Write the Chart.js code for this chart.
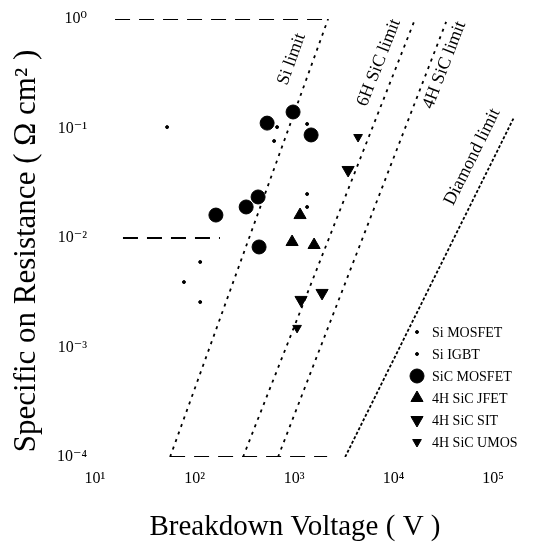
<!DOCTYPE html>
<html><head><meta charset="utf-8">
<script src="https://cdn.jsdelivr.net/npm/chart.js@4/dist/chart.umd.min.js"></script>
<style>html,body{margin:0;padding:0;background:#fff;}#wrap{width:543px;height:545px;}</style>
</head><body><div id="wrap"><canvas id="c" width="543" height="545"></canvas></div>
<script>
// ---- tick values / labels ----
const xTicks = [10, 100, 1000, 10000, 100000];
const xTickLabels = ['10¹', '10²', '10³', '10⁴', '10⁵'];
const yTicks = [1e-4, 1e-3, 1e-2, 1e-1, 1];
const yTickLabels = ['10⁻⁴', '10⁻³', '10⁻²', '10⁻¹', '10⁰'];

// ---- theoretical limit lines (V, Ron) ----
const limitNames = ['Si limit', '6H SiC limit', '4H SiC limit', 'Diamond limit'];
const siLimitV = [56.8, 2198];      const siLimitR = [1e-4, 1];
const sic6hLimitV = [307, 16440];   const sic6hLimitR = [1e-4, 1];
const sic4hLimitV = [690, 33700];   const sic4hLimitR = [1e-4, 0.94];
const diamondLimitV = [3258, 162500]; const diamondLimitR = [1e-4, 0.127];

// ---- dashed guide lines ----
const guideTopV = [15.9, 2198];  const guideTopR = [1, 1];
const guideMidV = [19.1, 180];   const guideMidR = [0.01, 0.01];
const guideBotV = [56.8, 2148];  const guideBotR = [1e-4, 1e-4];

// ---- device data ----
const seriesNames = ['Si MOSFET', 'Si IGBT', 'SiC MOSFET', '4H SiC JFET', '4H SiC SIT', '4H SiC UMOS'];
const siMosfetV = [53, 114, 78.3, 114];
const siMosfetR = [0.103, 0.00604, 0.00396, 0.0026];
const siIgbtV = [675, 630, 1352, 1352, 1352];
const siIgbtR = [0.103, 0.0769, 0.110, 0.0252, 0.0192];
const sicMosfetV = [536, 977, 1483, 435, 330, 164, 445];
const sicMosfetR = [0.112, 0.1415, 0.0873, 0.0237, 0.0192, 0.0162, 0.00828];
const sicJfetV = [1148, 955, 1589];
const sicJfetR = [0.0162, 0.00919, 0.00863];
const sicSitV = [1911, 1175, 3491];
const sicSitR = [0.00315, 0.00272, 0.0418];
const sicUmosV = [1072, 4395];
const sicUmosR = [0.00151, 0.0836];

const pts = (xs, ys) => xs.map((x, i) => ({x: x, y: ys[i]}));
const lineDs = (xs, ys, dash, w) => ({data: pts(xs, ys), showLine: true, pointRadius: 0,
  borderColor: '#000', borderWidth: w, borderDash: dash, fill: false});
const markDs = (label, xs, ys, style, r, rot) => ({label: label, inLegend: true, data: pts(xs, ys),
  showLine: false, pointStyle: style, pointRadius: r, rotation: rot || 0,
  backgroundColor: '#000', borderColor: '#000', borderWidth: 1});

const limitSets = [
  lineDs(siLimitV, siLimitR, [3, 5], 1.8),
  lineDs(sic6hLimitV, sic6hLimitR, [3, 5], 1.8),
  lineDs(sic4hLimitV, sic4hLimitR, [3, 5], 1.8),
  lineDs(diamondLimitV, diamondLimitR, [3, 2], 1.8)
];
limitSets.forEach((d, i) => { d.limitLabel = limitNames[i]; });

const datasets = [
  ...limitSets,
  lineDs(guideTopV, guideTopR, [15, 9], 2),
  lineDs(guideMidV, guideMidR, [15, 9], 2),
  lineDs(guideBotV, guideBotR, [15, 9], 2),
  markDs(seriesNames[0], siMosfetV, siMosfetR, 'circle', 1.5),
  markDs(seriesNames[1], siIgbtV, siIgbtR, 'circle', 1.5),
  markDs(seriesNames[2], sicMosfetV, sicMosfetR, 'circle', 7),
  markDs(seriesNames[3], sicJfetV, sicJfetR, 'triangle', 7),
  markDs(seriesNames[4], sicSitV, sicSitR, 'triangle', 7, 180),
  markDs(seriesNames[5], sicUmosV, sicUmosR, 'triangle', 5, 180)
];

// label placement along each limit line: Ron at label centre, horizontal offset (px)
const limitLabelR = [0.43, 0.40, 0.38, 0.055];
const limitLabelDx = [-22, -19, 15, -22];

const SERIF = '"Liberation Serif", "DejaVu Serif", serif';

const decorPlugin = {
  id: 'decor',
  afterDatasetsDraw(chart) {
    const ctx = chart.ctx, xs = chart.scales.x, ys = chart.scales.y;
    ctx.save();
    ctx.fillStyle = '#000'; ctx.strokeStyle = '#000';
    // limit labels
    ctx.font = '18px ' + SERIF;
    ctx.textAlign = 'center'; ctx.textBaseline = 'middle';
    let li = 0;
    chart.data.datasets.forEach(ds => {
      if (!ds.limitLabel) return;
      const p0 = ds.data[0], p1 = ds.data[1];
      const x0 = xs.getPixelForValue(p0.x), y0 = ys.getPixelForValue(p0.y);
      const x1 = xs.getPixelForValue(p1.x), y1 = ys.getPixelForValue(p1.y);
      const yl = ys.getPixelForValue(limitLabelR[li]);
      const xl = x0 + (x1 - x0) * (yl - y0) / (y1 - y0) + limitLabelDx[li];
      const ang = Math.atan2(y1 - y0, x1 - x0);
      ctx.save(); ctx.translate(xl, yl); ctx.rotate(ang);
      ctx.fillText(ds.limitLabel, 0, 0); ctx.restore();
      li++;
    });
    // legend
    ctx.font = '14px ' + SERIF; ctx.textAlign = 'left';
    let row = 0;
    chart.data.datasets.forEach(ds => {
      if (!ds.inLegend) return;
      const y = 332 + row * 22;
      Chart.helpers.drawPoint(ctx, {pointStyle: ds.pointStyle, radius: ds.pointRadius,
        rotation: ds.rotation, borderWidth: 1}, 417, y);
      ctx.fillText(ds.label, 432, y + 1);
      row++;
    });
    // axis titles
    ctx.font = '29px ' + SERIF; ctx.textAlign = 'center';
    ctx.fillText('Breakdown Voltage ( V )', 295, 527);
    ctx.font = '31px ' + SERIF;
    ctx.save(); ctx.translate(27, 251); ctx.rotate(-Math.PI / 2);
    ctx.fillText('Specific on Resistance ( Ω cm² )', 0, 0);
    ctx.restore();
    ctx.restore();
  }
};

new Chart(document.getElementById('c'), {
  type: 'scatter',
  data: {datasets: datasets},
  options: {
    responsive: false, animation: false,
    layout: {padding: {top: 19, right: 20, left: 0, bottom: 0}},
    plugins: {legend: {display: false}, tooltip: {enabled: false}},
    scales: {
      x: {
        type: 'logarithmic', min: 10, max: Math.pow(10, 5.3),
        grid: {display: false, drawTicks: false}, border: {display: false},
        afterBuildTicks: s => { s.ticks = xTicks.map(v => ({value: v})); },
        afterFit: s => { s.height = 88; },
        ticks: {
          autoSkip: false, maxRotation: 0, padding: 12, color: '#000',
          font: {family: SERIF, size: 16},
          callback: v => { const i = xTicks.indexOf(v); return i >= 0 ? xTickLabels[i] : ''; }
        }
      },
      y: {
        type: 'logarithmic', min: 1e-4, max: 1,
        grid: {display: false, drawTicks: false}, border: {display: false},
        afterBuildTicks: s => { s.ticks = yTicks.map(v => ({value: v})); },
        afterFit: s => { s.width = 95; },
        ticks: {
          autoSkip: false, padding: 8, color: '#000',
          font: {family: SERIF, size: 16},
          callback: v => { const i = yTicks.indexOf(v); return i >= 0 ? yTickLabels[i] : ''; }
        }
      }
    }
  },
  plugins: [decorPlugin]
});
</script>
</body></html>
